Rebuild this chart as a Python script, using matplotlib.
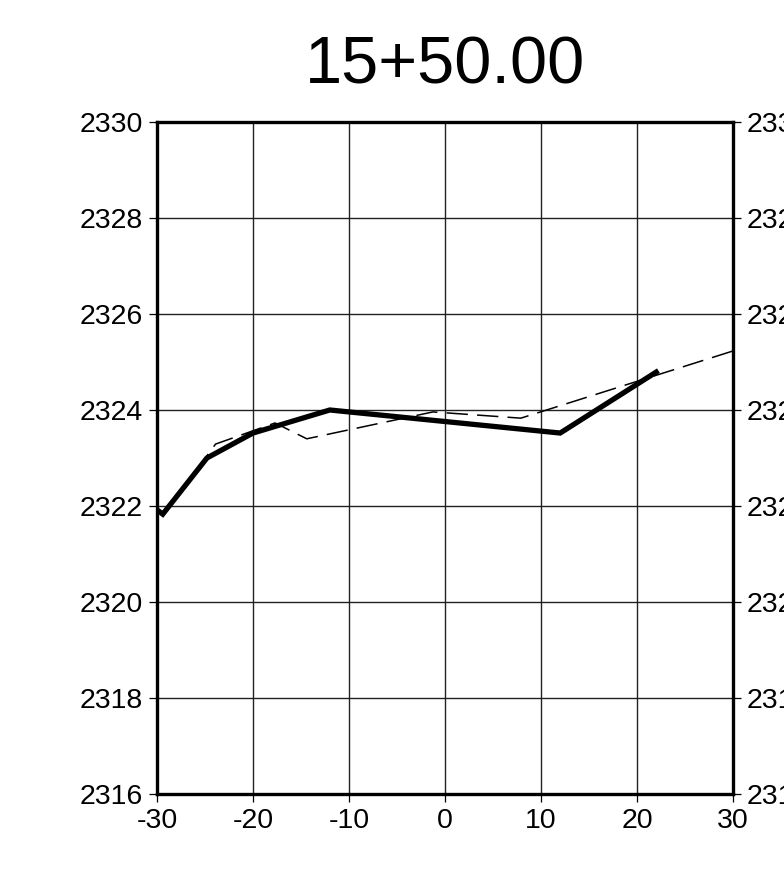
import matplotlib
matplotlib.use("Agg")
import matplotlib.pyplot as plt

# cross-section data
design_x = [-30, -29.4, -24.8, -20.0, -12.0, 12.0, 22.0]
design_z = [2321.92, 2321.83, 2323.0, 2323.52, 2324.0, 2323.52, 2324.79]

ground_x = [-30, -29.2, -23.9, -17.7, -14.4, -1.25, 7.9, 30]
ground_z = [2321.95, 2321.85, 2323.29, 2323.73, 2323.40, 2323.96, 2323.83, 2325.23]

x_ticks = [-30, -20, -10, 0, 10, 20, 30]
y_ticks = [2316, 2318, 2320, 2322, 2324, 2326, 2328, 2330]
station = "15+50.00"

plt.rcParams['font.family'] = ['Liberation Sans', 'DejaVu Sans']
plt.rcParams['axes.unicode_minus'] = False

fig = plt.figure(figsize=(7.84, 8.89), dpi=100)
ax = fig.add_axes([157 / 784, 1 - 794 / 889, (733 - 157) / 784, (794 - 122) / 889])

ax.plot(ground_x, ground_z, color='black', linewidth=1.1, linestyle=(0, (14, 6)), zorder=3)
ax.plot(design_x, design_z, color='black', linewidth=3.8, solid_joinstyle='miter', zorder=4)

ax.set_xlim(-30, 30)
ax.set_ylim(2316, 2330)
ax.set_xticks(x_ticks)
ax.set_yticks(y_ticks)
ax.grid(True, color='#222222', linewidth=1.0)
ax.set_axisbelow(True)

for s in ax.spines.values():
    s.set_linewidth(2.4)

ax.tick_params(axis='both', direction='out', length=6, width=0.9, labelsize=20.5, pad=4)
ax.tick_params(axis='y', right=True, labelright=True)

ax.set_title(station, fontsize=48, pad=28)

fig.savefig("out.png", dpi=100)
